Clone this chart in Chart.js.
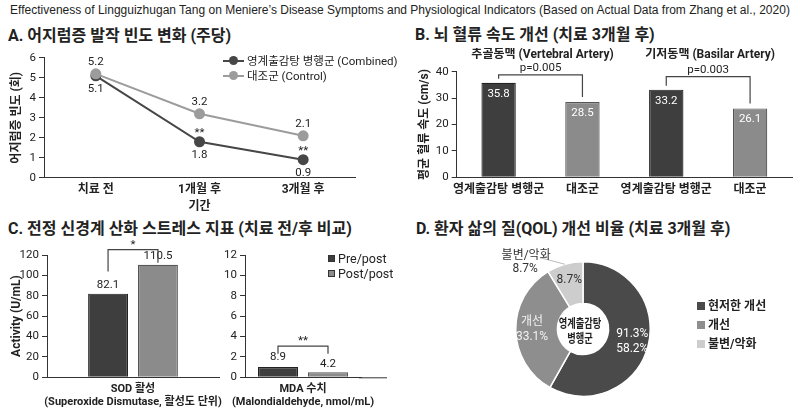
<!DOCTYPE html>
<html lang="ko">
<head>
<meta charset="utf-8">
<title>영계출감탕 메니에르병 지표</title>
<script src="https://cdn.jsdelivr.net/npm/chart.js@4.4.1/dist/chart.umd.min.js"></script>
<style>
  body { margin:0; width:800px; height:413px; position:relative; overflow:hidden; background:#fff; color:#222;
         font-family: Roboto, 'Noto Sans CJK KR', sans-serif; }
  canvas { position:absolute; }
  .t { position:absolute; white-space:nowrap; }
  #mainTitle { left:0; width:800px; top:3px; text-align:center; font-family:'Liberation Sans', Arial, sans-serif; font-size:12px; line-height:14px; }
  .panel { font-size:16px; font-weight:700; line-height:20px; }
  .leg { font-size:11.5px; line-height:15px; }
  .ln { display:inline-block; position:relative; width:21px; height:2px; vertical-align:middle; margin:0 3px 2px 0; }
  .ln i { position:absolute; left:6px; top:-3.5px; width:9px; height:9px; border-radius:50%; background:inherit; }
  .sq { display:inline-block; width:7px; height:7px; margin:0 3px 2px 0; vertical-align:middle; box-sizing:border-box; border:1px solid #333; }
</style>
</head>
<body>
<div id="mainTitle" class="t">Effectiveness of Lingguizhugan Tang on Meniere’s Disease Symptoms and Physiological Indicators (Based on Actual Data from Zhang et al., 2020)</div>

<div class="t panel" style="left:8px;top:26px">A. 어지럼증 발작 빈도 변화 (주당)</div>
<div class="t panel" style="left:415px;top:25px">B. 뇌 혈류 속도 개선 (치료 3개월 후)</div>
<div class="t panel" style="left:8px;top:219px">C. 전정 신경계 산화 스트레스 지표 (치료 전/후 비교)</div>
<div class="t panel" style="left:416px;top:219px">D. 환자 삶의 질(QOL) 개선 비율 (치료 3개월 후)</div>

<canvas id="cA" width="400" height="170" style="left:0;top:48px"></canvas>
<canvas id="cB" width="400" height="170" style="left:400px;top:48px"></canvas>
<canvas id="cC1" width="225" height="173" style="left:0;top:240px"></canvas>
<canvas id="cC2" width="195" height="173" style="left:205px;top:240px"></canvas>
<canvas id="cD" width="400" height="173" style="left:400px;top:240px"></canvas>

<div id="legA" class="t leg" style="left:223px;top:54px"></div>
<div id="legC" class="t leg" style="left:328px;top:251px;font-size:12.5px"></div>
<div id="legD" class="t leg" style="left:697px;top:297px;font-weight:700;font-size:12px;line-height:19px"></div>

<script>
// ---- data ----
const periods = ['치료 전', '1개월 후', '3개월 후'];
const seriesNames = ['영계출감탕 병행군 (Combined)', '대조군 (Control)'];
const combinedFreq = [5.1, 1.8, 0.9];
const controlFreq = [5.2, 3.2, 2.1];
const freqMarks = ['', '**', '**'];

const arteries = ['추골동맥 (Vertebral Artery)', '기저동맥 (Basilar Artery)'];
const flowGroups = ['영계출감탕 병행군', '대조군', '영계출감탕 병행군', '대조군'];
const flowSpeed = [35.8, 28.5, 33.2, 26.1];
const flowP = ['p=0.005', 'p=0.003'];

const stressSeries = ['Pre/post', 'Post/post'];
const sodAxis = ['SOD 활성', '(Superoxide Dismutase, 활성도 단위)'];
const sodValues = [82.1, 110.5];
const sodMark = '*';
const mdaAxis = ['MDA 수치', '(Malondialdehyde, nmol/mL)'];
const mdaBars = [1.0, 0.5];      // bar heights as drawn on the axis
const mdaText = ['8.9', '4.2'];  // values printed above the bars
const mdaMark = '**';

const qolLabels = ['현저한 개선', '개선', '불변/악화'];
const qolShares = [58.2, 33.1, 8.7];
const qolSliceText = [['91.3%', '58.2%'], ['개선', '33.1%'], ['8.7%']];
const qolOuterText = ['불변/악화', '8.7%'];
const qolCenter = ['영계출감탕', '병행군'];

// ---- style ----
const INK = '#222', AXIS = '#333';
const DARK = '#474747', LIGHT = '#9c9c9c';
const BAR_DARK = '#3e3e3e', BAR_LIGHT = '#8b8b8b';
const PIE = ['#4a4a4a', '#8e8e8e', '#cdcdcd'];
const PIE_INK = ['#fff', '#f2f2f2', '#333'];
const FAM = "Roboto, 'Noto Sans CJK KR', sans-serif";
const NUM = '11.5px ' + FAM;

Chart.defaults.font.family = FAM;
Chart.defaults.font.size = 11;
Chart.defaults.color = INK;
Chart.defaults.animation = false;
Chart.defaults.responsive = false;
Chart.defaults.plugins.legend.display = false;
Chart.defaults.plugins.tooltip.enabled = false;

function put(ctx, s, x, y, font, color, align) {
  ctx.save();
  ctx.font = font || NUM;
  ctx.fillStyle = color || INK;
  ctx.textAlign = align || 'center';
  ctx.textBaseline = 'middle';
  ctx.fillText(s, x, y);
  ctx.restore();
}

function bracket(ctx, x1, y1, x2, y2, top) {
  ctx.save();
  ctx.strokeStyle = '#444';
  ctx.lineWidth = 1.2;
  ctx.beginPath();
  ctx.moveTo(x1, y1); ctx.lineTo(x1, top); ctx.lineTo(x2, top); ctx.lineTo(x2, y2);
  ctx.stroke();
  ctx.restore();
}

function yAxis(max, step, width, title, titlePad) {
  return {
    min: 0, max: max,
    ticks: { stepSize: step, padding: 3, font: { size: 11.5 } },
    grid: { drawOnChartArea: false, tickLength: 5, color: AXIS },
    border: { color: AXIS },
    title: title ? { display: true, text: title, font: { size: 12, weight: 'bold' }, padding: { top: titlePad, bottom: 0 } } : { display: false },
    afterFit: s => { s.width = width; }
  };
}

function xAxis(height, pad, title, titlePad, size) {
  return {
    grid: { display: false, drawTicks: false },
    border: { display: true, color: AXIS },
    ticks: { padding: pad, font: { size: size || 12, weight: 'bold' }, maxRotation: 0, autoSkip: false },
    title: title ? { display: true, text: title, font: { size: 12, weight: 'bold' }, padding: { top: 0, bottom: titlePad } } : { display: false },
    // long labels may hang past the canvas; keep the plot area fixed
    afterFit: s => { s.height = height; s.paddingLeft = 0; s.paddingRight = 0; }
  };
}

// ---- A: line chart ----
const freqLabels = {
  id: 'freqLabels',
  afterDatasetsDraw(chart) {
    const ctx = chart.ctx;
    chart.getDatasetMeta(0).data.forEach((pt, i) => {
      put(ctx, combinedFreq[i].toFixed(1), pt.x, pt.y + 13);
      if (freqMarks[i]) put(ctx, freqMarks[i], pt.x, pt.y - 9);
    });
    chart.getDatasetMeta(1).data.forEach((pt, i) => {
      put(ctx, controlFreq[i].toFixed(1), pt.x, pt.y - 12);
    });
  }
};

new Chart(document.getElementById('cA'), {
  type: 'line',
  data: {
    labels: periods,
    datasets: [
      { label: seriesNames[0], data: combinedFreq, order: 1, borderColor: DARK, backgroundColor: DARK, borderWidth: 2, pointRadius: 4.5 },
      { label: seriesNames[1], data: controlFreq, order: 0, borderColor: LIGHT, backgroundColor: LIGHT, borderWidth: 2, pointRadius: 4.5 }
    ]
  },
  options: {
    layout: { padding: { top: 9.7, right: 45, left: 0, bottom: 0 } },
    scales: {
      x: Object.assign(xAxis(40.3, 5, '기간', 3.8), { offset: true }),
      y: yAxis(6, 1, 44, '어지럼증 빈도 (회)', 9.8)
    }
  },
  plugins: [freqLabels]
});

document.getElementById('legA').innerHTML = seriesNames.map((n, i) =>
  '<div><span class="ln" style="background:' + [DARK, LIGHT][i] + '"><i></i></span>' + n + '</div>').join('');

// ---- B: bar chart ----
const BRACKET_LIFT = [8, 13];
const flowMarks = {
  id: 'flowMarks',
  afterDatasetsDraw(chart) {
    const ctx = chart.ctx, bars = chart.getDatasetMeta(0).data;
    bars.forEach((b, i) => put(ctx, flowSpeed[i].toFixed(1), b.x, b.y + 11, NUM, '#fff'));
    flowP.forEach((p, k) => {
      const a = bars[2 * k], c = bars[2 * k + 1];
      const top = Math.min(a.y, c.y) - BRACKET_LIFT[k];
      bracket(ctx, a.x, a.y - 4, c.x, c.y - 5, top);
      put(ctx, p, (a.x + c.x) / 2, top - 7);
      put(ctx, arteries[k], (a.x + c.x) / 2 + 2, 6.5, 'bold 12px ' + FAM);
    });
  }
};

new Chart(document.getElementById('cB'), {
  type: 'bar',
  data: {
    labels: flowGroups,
    datasets: [{
      data: flowSpeed,
      backgroundColor: flowGroups.map((g, i) => i % 2 ? BAR_LIGHT : BAR_DARK),
      borderColor: flowGroups.map((g, i) => i % 2 ? '#555' : '#222'),
      borderWidth: 1.2,
      categoryPercentage: 1, barPercentage: 0.41
    }]
  },
  options: {
    layout: { padding: { top: 23.7, right: 8, left: 0, bottom: 0 } },
    scales: {
      x: xAxis(40.7, 5.5),
      y: yAxis(40, 10, 56.7, '평균 혈류 속도 (cm/s)', 17.8)
    }
  },
  plugins: [flowMarks]
});

// ---- C: oxidative stress bars ----
function stressData(label, values) {
  return {
    labels: [label],
    datasets: stressSeries.map((name, i) => ({
      label: name, data: [values[i]],
      backgroundColor: i ? BAR_LIGHT : BAR_DARK,
      borderColor: i ? '#555' : '#222', borderWidth: 1.2
    }))
  };
}

const sodMarks = {
  id: 'sodMarks',
  afterDatasetsDraw(chart) {
    const ctx = chart.ctx;
    const a = chart.getDatasetMeta(0).data[0], b = chart.getDatasetMeta(1).data[0];
    put(ctx, sodValues[0].toFixed(1), a.x, a.y - 9);
    put(ctx, sodValues[1].toFixed(1), b.x, b.y - 9);
    const top = Math.min(a.y, b.y) - 15;
    bracket(ctx, a.x, top + 21.7, b.x, top + 13, top);
    put(ctx, sodMark, (a.x + b.x) / 2, top - 5);
  }
};

new Chart(document.getElementById('cC1'), {
  type: 'bar',
  data: stressData(sodAxis, sodValues),
  options: {
    datasets: { bar: { categoryPercentage: 0.58, barPercentage: 0.8 } },
    layout: { padding: { top: 15, right: 6, left: 0, bottom: 0 } },
    scales: {
      x: xAxis(35.7, 5.5, null, 0, 11),
      y: yAxis(120, 20, 47, 'Activity (U/mL)', 9.5)
    }
  },
  plugins: [sodMarks]
});

const mdaMarks = {
  id: 'mdaMarks',
  afterDatasetsDraw(chart) {
    const ctx = chart.ctx, area = chart.chartArea;
    const a = chart.getDatasetMeta(0).data[0], b = chart.getDatasetMeta(1).data[0];
    put(ctx, mdaText[0], a.x, a.y - 10);
    put(ctx, mdaText[1], b.x, b.y - 8);
    const top = Math.min(a.y, b.y) - 21;
    bracket(ctx, a.x, top + 7.6, b.x, top + 7.6, top);
    put(ctx, mdaMark, (a.x + b.x) / 2, top - 5);
    // the baseline runs on past the group
    ctx.save();
    ctx.strokeStyle = AXIS; ctx.lineWidth = 1;
    ctx.beginPath(); ctx.moveTo(area.right - 2, area.bottom + 0.5); ctx.lineTo(area.right + 26, area.bottom + 0.5); ctx.stroke();
    ctx.restore();
  }
};

new Chart(document.getElementById('cC2'), {
  type: 'bar',
  data: stressData(mdaAxis, mdaBars),
  options: {
    datasets: { bar: { categoryPercentage: 0.862, barPercentage: 0.8 } },
    layout: { padding: { top: 15, right: 39, left: 0, bottom: 0 } },
    scales: {
      x: xAxis(35.7, 5.5, null, 0, 11),
      y: yAxis(12, 2, 40)
    }
  },
  plugins: [mdaMarks]
});

document.getElementById('legC').innerHTML = stressSeries.map((n, i) =>
  '<div><span class="sq" style="background:' + [BAR_DARK, BAR_LIGHT][i] + '"></span>' + n + '</div>').join('');

// ---- D: doughnut ----
const qolMarks = {
  id: 'qolMarks',
  afterDatasetsDraw(chart) {
    const ctx = chart.ctx, arcs = chart.getDatasetMeta(0).data;
    let cx = 0, cy = 0;
    arcs.forEach((arc, i) => {
      const p = arc.getProps(['x', 'y', 'startAngle', 'endAngle', 'innerRadius', 'outerRadius']);
      const mid = (p.startAngle + p.endAngle) / 2;
      const r = p.innerRadius + (p.outerRadius - p.innerRadius) * 0.61;
      const lines = qolSliceText[i];
      lines.forEach((s, j) => put(ctx, s, p.x + Math.cos(mid) * r, p.y + Math.sin(mid) * r + (j - (lines.length - 1) / 2) * 15, '12px ' + FAM, PIE_INK[i]));
      cx = p.x; cy = p.y;
      if (i === arcs.length - 1) {
        const ex = p.x + Math.cos(mid) * p.outerRadius, ey = p.y + Math.sin(mid) * p.outerRadius;
        ctx.save();
        ctx.strokeStyle = '#bbb'; ctx.lineWidth = 1;
        ctx.beginPath(); ctx.moveTo(ex, ey); ctx.lineTo(ex - 25, ey - 6.6); ctx.stroke();
        ctx.restore();
        put(ctx, qolOuterText[0], ex - 38.7, ey - 7.8, '12px ' + FAM, '#333');
        put(ctx, qolOuterText[1], ex - 39.7, ey + 4.7, '12px ' + FAM, '#333');
      }
    });
    qolCenter.forEach((s, j) => {
      ctx.save();
      ctx.translate(cx - 3, cy - 4 + j * 15);
      ctx.scale(0.74, 1);
      put(ctx, s, 0, 0, 'bold 12.5px ' + FAM, INK);
      ctx.restore();
    });
  }
};

new Chart(document.getElementById('cD'), {
  type: 'doughnut',
  data: {
    labels: qolLabels,
    datasets: [{ data: qolShares, backgroundColor: PIE, borderColor: '#fff', borderWidth: 1.5 }]
  },
  options: {
    cutout: '38%',
    layout: { padding: { left: 115, right: 149, top: 21, bottom: 16 } }
  },
  plugins: [qolMarks]
});

document.getElementById('legD').innerHTML = qolLabels.map((n, i) =>
  '<div><span class="sq" style="width:8px;height:8px;border:none;background:' + PIE[i] + '"></span>' + n + '</div>').join('');
</script>
</body>
</html>
